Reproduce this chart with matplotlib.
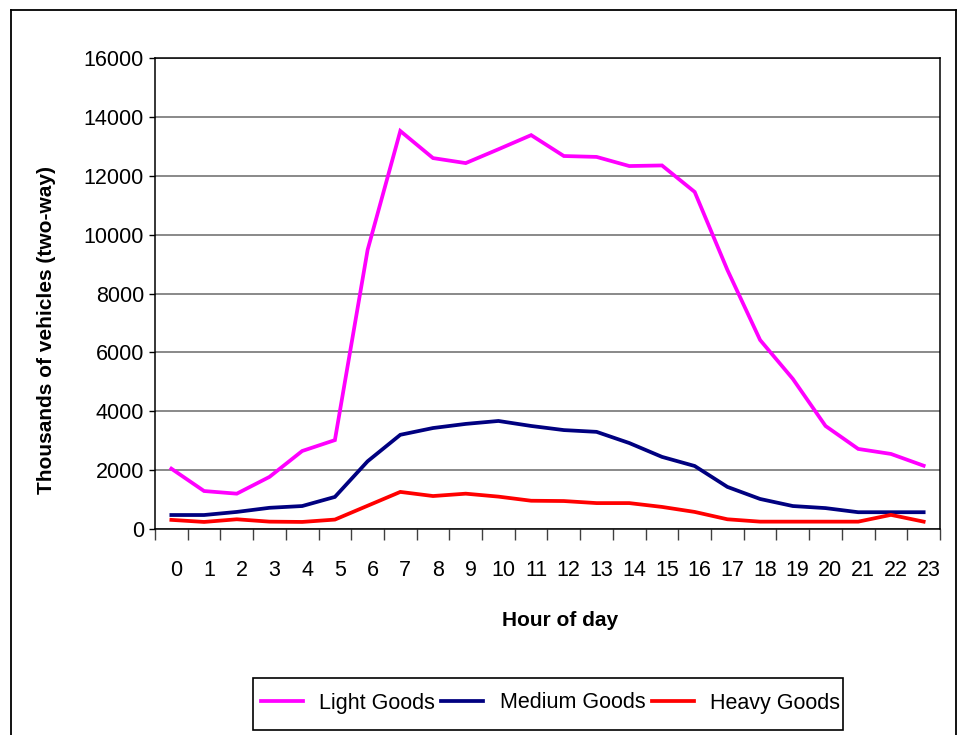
import matplotlib
matplotlib.use("Agg")
import matplotlib.pyplot as plt
from matplotlib.transforms import ScaledTranslation
from matplotlib.lines import Line2D
from matplotlib.patches import Rectangle
import numpy as np

plt.rcParams['font.family'] = ['Liberation Sans', 'DejaVu Sans']

hours = list(range(24))
hour_labels = [str(h) for h in hours]
light_goods = [2050, 1290, 1200, 1770, 2650, 3020, 9480, 13520, 12600, 12430, 12900, 13380,
               12670, 12640, 12330, 12350, 11450, 8800, 6420, 5100, 3500, 2720, 2550, 2150]
medium_goods = [475, 475, 580, 720, 780, 1090, 2300, 3200, 3430, 3570, 3670, 3500,
                3360, 3300, 2920, 2450, 2140, 1430, 1020, 780, 710, 570, 570, 570]
heavy_goods = [310, 240, 330, 250, 240, 320, 790, 1260, 1120, 1200, 1100, 960,
               950, 880, 880, 750, 580, 330, 250, 250, 250, 250, 480, 250]
series_names = ["Light Goods", "Medium Goods", "Heavy Goods"]
colors = ["#FF00FF", "#000080", "#FF0000"]
y_ticks = list(range(0, 16001, 2000))

W, H = 958, 735
fig = plt.figure(figsize=(W / 100, H / 100), dpi=100)
ax = fig.add_axes([155 / W, 1 - 529 / H, (940 - 155) / W, (529 - 58) / H])

for vals, c, n in zip([light_goods, medium_goods, heavy_goods], colors, series_names):
    ax.plot(hours, vals, color=c, lw=2.7, label=n, solid_joinstyle='miter')

ax.set_xlim(-0.5, 23.5)
ax.set_ylim(0, 16000)
ax.set_yticks(y_ticks)
ax.set_yticklabels([str(v) for v in y_ticks], fontsize=15.5)
ax.yaxis.grid(True, color='#6a6a6a', lw=1.1)
ax.set_axisbelow(True)
ax.tick_params(axis='y', length=4, width=1, pad=4, color='black')

# category boundaries as major ticks (no labels); labels at category centres
ax.set_xticks(np.arange(-0.5, 24, 1.0))
ax.set_xticklabels([])
ax.tick_params(axis='x', which='major', length=8, width=1, color='#404040')
ax.set_xticks(hours, minor=True)
ax.set_xticklabels(hour_labels, minor=True, fontsize=15.5)
ax.tick_params(axis='x', which='minor', length=0, pad=22)
for lab in ax.xaxis.get_minorticklabels():
    lab.set_transform(lab.get_transform() + ScaledTranslation(3.5 / 72, 0, fig.dpi_scale_trans))

for s in ax.spines.values():
    s.set_color('black')
    s.set_linewidth(1.1)

fig.text(47 / W, 1 - 330 / H, "Thousands of vehicles (two-way)", rotation=90,
         ha='center', va='center', fontsize=15, fontweight='bold')
fig.text(560 / W, 1 - 620 / H, "Hour of day", ha='center', va='center',
         fontsize=15, fontweight='bold')

# legend frame drawn separately (text reaches right edge as in the original)
fig.add_artist(Rectangle((253 / W, 1 - 730 / H), (843 - 253) / W, (730 - 678) / H,
                         transform=fig.transFigure, fill=False, edgecolor='black', lw=1.2))
leg = fig.legend(loc='center left', bbox_to_anchor=(261 / W, 1 - 703 / H), ncol=3,
                 fontsize=15.5, frameon=False,
                 handlelength=1.95, handletextpad=0.75, columnspacing=0.3,
                 borderpad=0, borderaxespad=0)

# outer chart border
fig.add_artist(Line2D([11 / W, 11 / W], [0, 1 - 10 / H], color='black', lw=1.3, transform=fig.transFigure))
fig.add_artist(Line2D([11 / W, 956 / W], [1 - 10 / H, 1 - 10 / H], color='black', lw=1.3, transform=fig.transFigure))
fig.add_artist(Line2D([956 / W, 956 / W], [0, 1 - 10 / H], color='black', lw=1.3, transform=fig.transFigure))

fig.savefig("out.png", dpi=100)
